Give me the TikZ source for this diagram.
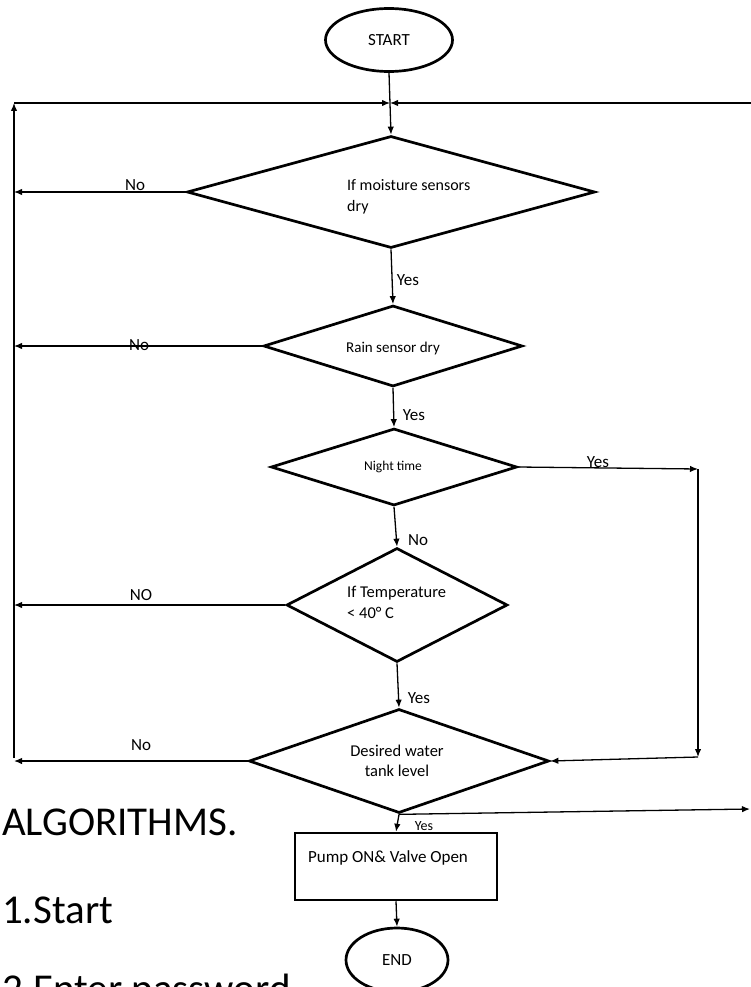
\documentclass[tikz,border=0pt]{standalone}
\usepackage{fontspec}
\setmainfont{Carlito}
\usetikzlibrary{shapes.geometric,arrows.meta}
\newcommand{\setfs}[2]{\fontsize{#1}{#2}\selectfont}

\begin{document}
\begin{tikzpicture}[x=1pt,y=-1pt,
    dec/.style={draw=black,line width=2.7pt,diamond,inner sep=0pt},
    term/.style={draw=black,line width=2.7pt,ellipse,inner sep=0pt,font=\setfs{17}{20}},
    proc/.style={draw=black,line width=2.5pt,rectangle,inner sep=0pt},
    txt/.style={inner sep=0pt},
    lbl/.style={inner sep=0pt,font=\setfs{17}{20}},
    big/.style={inner sep=0pt,anchor=base west,font=\setfs{41}{48}},
    conn/.style={draw=black,line width=1.3pt,-{Latex[length=8pt,width=6.5pt]}}]
  \useasboundingbox (0,0) rectangle (751,987);

  % terminals and boxes
  \node[term,minimum width=127pt,minimum height=63pt] (start) at (389,40) {START};
  \node[dec,minimum width=408pt,minimum height=112pt] (dia1) at (391,192) {};
  \node[dec,minimum width=259pt,minimum height=81pt] (dia2) at (393,346) {};
  \node[dec,minimum width=246pt,minimum height=77pt] (dia3) at (394,467) {};
  \node[dec,minimum width=221pt,minimum height=114pt] (dia4) at (397,605) {};
  \node[dec,minimum width=300pt,minimum height=104pt] (dia5) at (399,761) {};
  \node[proc,minimum width=202pt,minimum height=67pt] (pump) at (396,866.5) {};
  \node[term,minimum width=102pt,minimum height=64pt] (stop) at (397,960) {END};

  % texts in the boxes
  \node[txt,anchor=west,align=left,font=\setfs{16}{21}] (t1) at (347,197) {If moisture sensors\\dry};
  \node[txt,font=\setfs{15}{18}] (t2) at (393,348) {Rain sensor dry};
  \node[txt,font=\setfs{13.5}{16}] (t3) at (393,467) {Night time};
  \node[txt,anchor=west,align=left,font=\setfs{16.5}{21}] (t4) at (347,602) {If Temperature\\< 40° C};
  \node[txt,align=center,font=\setfs{16.5}{20}] (t5) at (397,761) {Desired water\\tank level};
  \node[txt,font=\setfs{17}{20}] (t6) at (388,858) {Pump ON\& Valve Open};

  % corners of the loops
  \coordinate (jn) at (390,103);
  \coordinate (lt) at (14,103);
  \coordinate (lb) at (14,758);
  \coordinate (rt) at (751,103);
  \coordinate (rb) at (750,809);
  \coordinate (nt) at (698,469);
  \coordinate (nb) at (698,757);

  % connectors
  \draw[conn] (start.south) -- (dia1.north);
  \draw[conn] (lt) -- (jn);
  \draw[conn] (rt) -- (jn);
  \draw[conn] (lb) -- (lt);
  \foreach \d in {dia1,dia2,dia4,dia5}{
    \draw[conn] (\d.west) -- (\d.west -| lb);
  }
  \draw[conn] (dia1.south) -- (dia2.north);
  \draw[conn] (dia2.south) -- (dia3.north);
  \draw[conn] (dia3.south) -- (dia4.north);
  \draw[conn] (dia4.south) -- (dia5.north);
  \draw[conn] (dia3.east) -- (nt);
  \draw[conn] (nt) -- (nb);
  \draw[conn] (nb) -- (dia5.east);
  \draw[conn] (dia5.south) -- (rb);
  \draw[conn] (dia5.south) -- (pump.north);
  \draw[conn] (pump.south) -- (stop.north);

  % labels
  \node[lbl] (no1) at (135,185) {No};
  \node[lbl] (yes1) at (408,280) {Yes};
  \node[lbl] (no2) at (139,345) {No};
  \node[lbl] (yes2) at (414,415) {Yes};
  \node[lbl] (yes3) at (598,462) {Yes};
  \node[lbl] (no3) at (418,540) {No};
  \node[lbl] (no4) at (141,595) {NO};
  \node[lbl] (yes4) at (419,698) {Yes};
  \node[lbl] (no5) at (141,745) {No};
  \node[lbl,font=\setfs{14}{16}] (yes5) at (424,826) {Yes};

  % algorithm text
  \node[big] (alg) at (2,835) {ALGORITHMS.};
  \node[big] (st1) at (2,923) {1.Start};
  \node[big] (st2) at (2,1002) {2.Enter password};
\end{tikzpicture}
\end{document}
